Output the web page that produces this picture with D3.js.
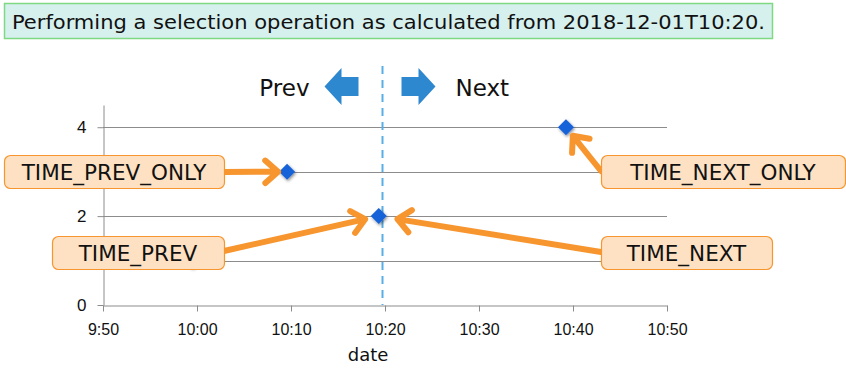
<!DOCTYPE html>
<html>
<head>
<meta charset="utf-8">
<script src="https://cdn.jsdelivr.net/npm/d3@7"></script>
<style>
	body { margin: 0; background: #fff; }
	svg { display: block; font-family: "DejaVu Sans Condensed", "DejaVu Sans", sans-serif; }
	.wide { font-family: "DejaVu Sans", sans-serif; }
</style>
</head>
<body>
<div id="chart"></div>
<script>
// Points on the chart (time, value)
var pointTimes = ["2018-12-01T09:59:30", "2018-12-01T10:09:35", "2018-12-01T10:19:20", "2018-12-01T10:39:15"];
var pointValues = [1, 3, 2, 4];

// Axis setup
var xDomain = ["2018-12-01T09:50:00", "2018-12-01T10:50:00"];
var yTicks = [0, 2, 4];
var gridValues = [1, 2, 3, 4];
var yMax = 4.5;
var selectionTime = "2018-12-01T10:19:40";

var titleText = "Performing a selection operation as calculated from 2018-12-01T10:20.";
var xAxisLabel = "date";

// Annotation labels and which point they point at
var labelNames = ["TIME_PREV_ONLY", "TIME_PREV", "TIME_NEXT", "TIME_NEXT_ONLY"];
var labelTargets = [1, 2, 2, 3];

// layout of label boxes (pixel boxes, arrow start, gap before the point)
var labelLayout = [
	{box: [4, 155, 220, 33], start: [224, 172], gap: 9},
	{box: [52, 236, 172, 33], start: [224, 251], gap: 14},
	{box: [601, 236, 171, 33], start: [601, 252], gap: 19},
	{box: [601, 155, 244, 33], start: [601, 171], gap: 11}
];

var width = 846, height = 378;
var parse = d3.isoParse;

var x = d3.scaleTime()
	.domain(xDomain.map(parse))
	.range([103, 667]);
var y = d3.scaleLinear()
	.domain([0, yMax])
	.range([305, 105]);

var svg = d3.select("#chart").append("svg")
	.attr("width", width)
	.attr("height", height);

var defs = svg.append("defs");
defs.append("filter")
	.attr("id", "shadow")
	.attr("x", "-50%").attr("y", "-50%")
	.attr("width", "200%").attr("height", "200%")
	.append("feDropShadow")
	.attr("dx", 1).attr("dy", 1.5)
	.attr("stdDeviation", 1.5)
	.attr("flood-color", "#000")
	.attr("flood-opacity", 0.45);

// Title box
svg.append("rect")
	.attr("x", 4.5).attr("y", 3.5)
	.attr("width", 768).attr("height", 35)
	.attr("fill", "#d6f0ee")
	.attr("stroke", "#7fd882")
	.attr("stroke-width", 1.5);
svg.append("text")
	.attr("x", 12).attr("y", 28.5)
	.attr("font-size", "20px")
	.attr("fill", "#111")
	.attr("textLength", 753)
	.attr("lengthAdjust", "spacingAndGlyphs")
	.text(titleText);

// Gridlines
svg.append("g").attr("class", "grid")
	.selectAll("line")
	.data(gridValues)
	.enter().append("line")
	.attr("x1", x.range()[0]).attr("x2", x.range()[1])
	.attr("y1", function(d){ return Math.round(y(d)) + 0.5; })
	.attr("y2", function(d){ return Math.round(y(d)) + 0.5; })
	.attr("stroke", "#8c8c8c")
	.attr("stroke-width", 1);

// Axes
var xAxis = svg.append("g")
	.attr("transform", "translate(0," + (y(0) + 0.5) + ")")
	.call(d3.axisBottom(x)
		.ticks(d3.timeMinute.every(10))
		.tickFormat(d3.timeFormat("%-H:%M"))
		.tickSize(6)
		.tickSizeOuter(0));
xAxis.select(".domain").attr("stroke", "#8c8c8c");
xAxis.selectAll(".tick line").attr("stroke", "#8c8c8c");
xAxis.selectAll(".tick text")
	.attr("font-size", "16px")
	.attr("font-family", "inherit")
	.attr("fill", "#111")
	.attr("dy", "1.25em");

var yAxis = svg.append("g")
	.attr("transform", "translate(" + (x.range()[0] + 0.5) + ",0)")
	.call(d3.axisLeft(y)
		.tickValues(yTicks)
		.tickFormat(d3.format("d"))
		.tickSize(6)
		.tickSizeOuter(0));
yAxis.select(".domain").attr("stroke", "#8c8c8c");
yAxis.selectAll(".tick line").attr("stroke", "#8c8c8c");
yAxis.selectAll(".tick text")
	.attr("font-size", "17px")
	.attr("font-family", "inherit")
	.attr("fill", "#111")
	.attr("x", -17);

svg.append("text")
	.attr("class", "wide")
	.attr("x", 368)
	.attr("y", 361)
	.attr("text-anchor", "middle")
	.attr("font-size", "18px")
	.attr("fill", "#111")
	.text(xAxisLabel);

// Selection line
var sx = Math.round(x(parse(selectionTime))) + 0.5;
svg.append("line")
	.attr("x1", sx).attr("x2", sx)
	.attr("y1", 66).attr("y2", y(0))
	.attr("stroke", "#5aaee6")
	.attr("stroke-width", 2)
	.attr("stroke-dasharray", "8,6");

// Prev / Next markers
svg.append("text")
	.attr("class", "wide")
	.attr("x", sx - 73).attr("y", 96)
	.attr("text-anchor", "end")
	.attr("font-size", "23px")
	.attr("fill", "#111")
	.text("Prev");
svg.append("text")
	.attr("class", "wide")
	.attr("x", sx + 73).attr("y", 96)
	.attr("font-size", "23px")
	.attr("fill", "#111")
	.text("Next");

function blockArrow(dir, shift){
	// dir: -1 left, 1 right
	var p = [[19, 77], [36, 77], [36, 68], [53, 86.5], [36, 105], [36, 96], [19, 96]];
	return p.map(function(q){ return [sx + dir * q[0] + shift, q[1]]; });
}
svg.append("polygon")
	.attr("points", blockArrow(-1, -5).join(" "))
	.attr("fill", "#2e88cf");
svg.append("polygon")
	.attr("points", blockArrow(1, 0).join(" "))
	.attr("fill", "#2e88cf");

// Points
var points = pointTimes.map(function(t, i){
	return {date: parse(t), value: pointValues[i]};
});
svg.append("g").attr("class", "points")
	.selectAll("path")
	.data(points)
	.enter().append("path")
	.attr("d", "M0,-8L8,0L0,8L-8,0Z")
	.attr("transform", function(d){ return "translate(" + x(d.date) + "," + y(d.value) + ")"; })
	.attr("fill", "#1763d9")
	.attr("filter", "url(#shadow)");

// Annotations
var orange = "#f7962f";
var notes = svg.append("g").attr("class", "notes")
	.selectAll("g")
	.data(labelNames.map(function(name, i){
		return {name: name, target: points[labelTargets[i]], layout: labelLayout[i]};
	}))
	.enter().append("g");

notes.each(function(d){
	var g = d3.select(this);
	var px = x(d.target.date), py = y(d.target.value);
	var sx0 = d.layout.start[0], sy0 = d.layout.start[1];
	var ang = Math.atan2(py - sy0, px - sx0);
	var tx = px - Math.cos(ang) * d.layout.gap;
	var ty = py - Math.sin(ang) * d.layout.gap;
	var len = 17, spread = 0.72;
	var h1 = [tx - len * Math.cos(ang - spread), ty - len * Math.sin(ang - spread)];
	var h2 = [tx - len * Math.cos(ang + spread), ty - len * Math.sin(ang + spread)];

	g.append("path")
		.attr("d", "M" + sx0 + "," + sy0 + "L" + tx + "," + ty +
			"M" + h1 + "L" + tx + "," + ty + "L" + h2)
		.attr("fill", "none")
		.attr("stroke", orange)
		.attr("stroke-width", 6)
		.attr("stroke-linecap", "round")
		.attr("stroke-linejoin", "round");

	var b = d.layout.box;
	g.append("rect")
		.attr("x", b[0] + 0.5).attr("y", b[1] + 0.5)
		.attr("width", b[2]).attr("height", b[3])
		.attr("rx", 6)
		.attr("fill", "#fde1c2")
		.attr("stroke", orange)
		.attr("stroke-width", 1.2);
	g.append("text")
		.attr("class", "wide")
		.attr("x", b[0] + b[2] / 2).attr("y", b[1] + b[3] / 2 + 8)
		.attr("text-anchor", "middle")
		.attr("font-size", "21.5px")
		.attr("fill", "#111")
		.text(d.name);
});
</script>
</body>
</html>
